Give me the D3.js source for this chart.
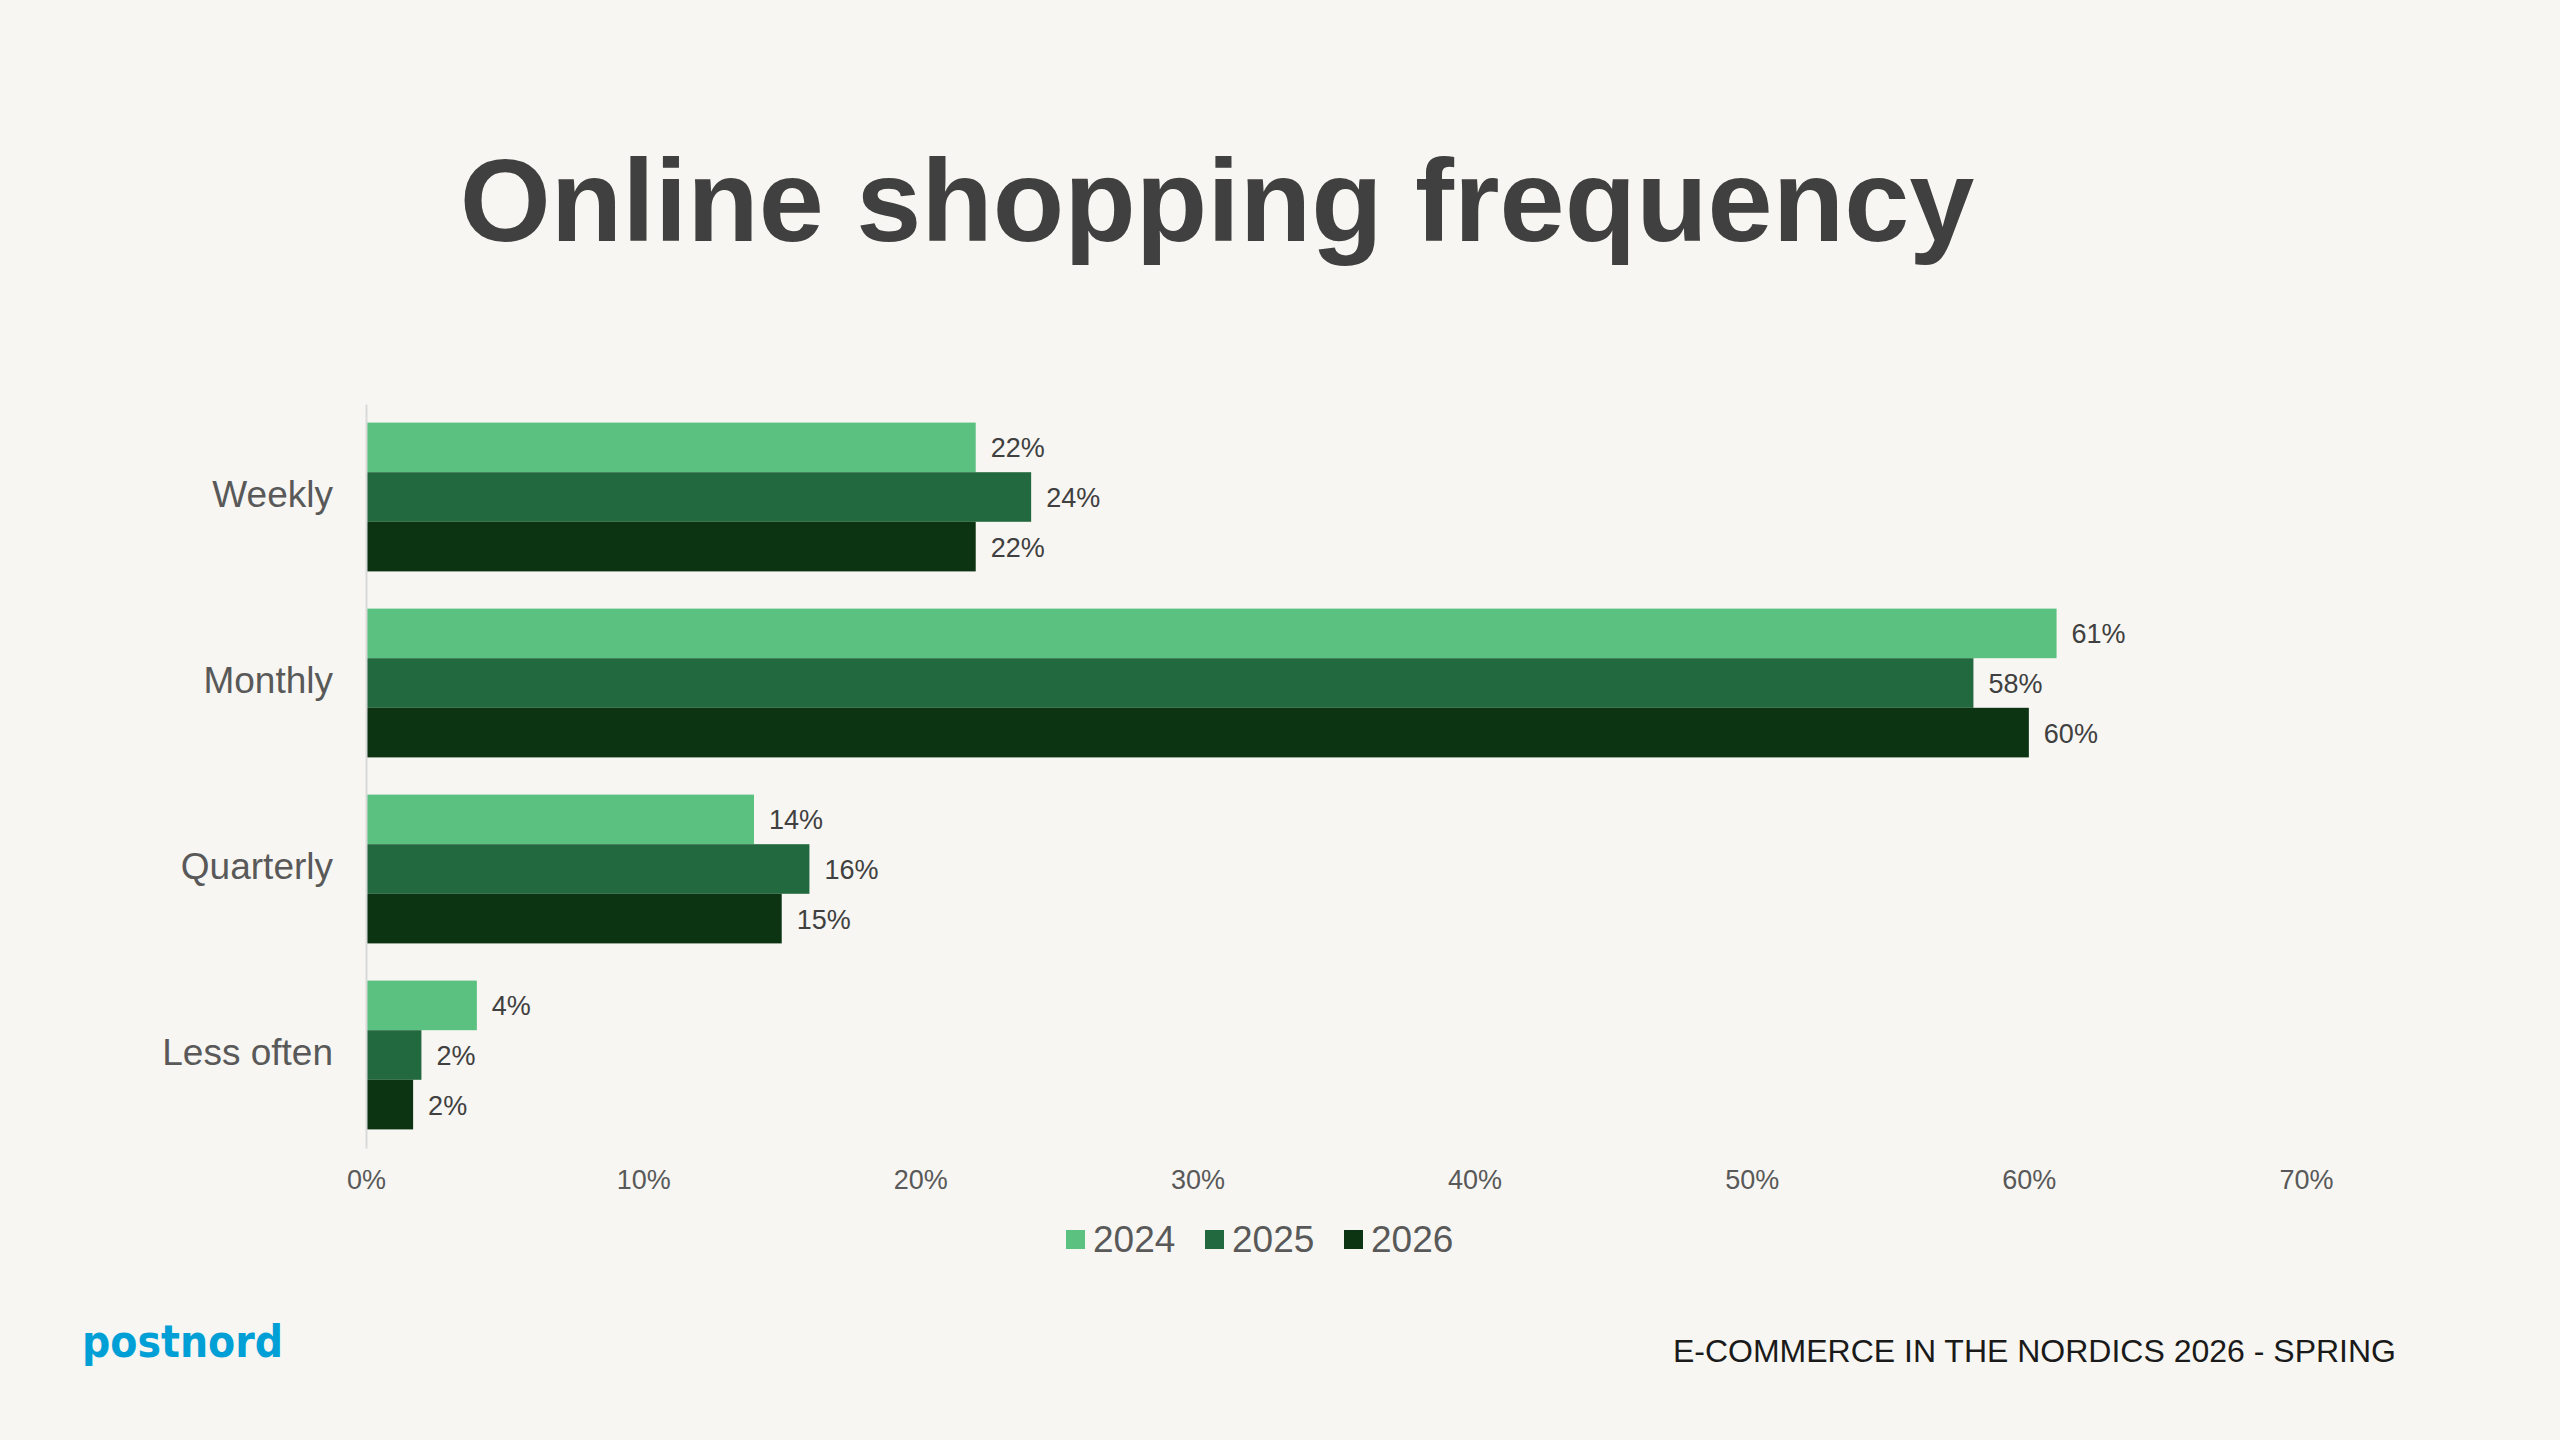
<!DOCTYPE html>
<html>
<head>
<meta charset="utf-8">
<script src="https://cdn.jsdelivr.net/npm/d3@7"></script>
<style>
  html, body { margin: 0; padding: 0; background: #f7f6f2; }
  svg { display: block; }
  text { font-family: "Liberation Sans", Arial, sans-serif; }
</style>
</head>
<body>
<svg id="chart" width="2560" height="1440"></svg>
<script>
const categories = ["Weekly", "Monthly", "Quarterly", "Less often"];
const seriesNames = ["2024", "2025", "2026"];
const values2024 = [22, 61, 14, 4];
const values2025 = [24, 58, 16, 2];
const values2026 = [22, 60, 15, 1.7];
const xTicks = [0, 10, 20, 30, 40, 50, 60, 70];
const colors = ["#5bc181", "#23693f", "#0c3413"];

const seriesValues = [values2024, values2025, values2026];

const svg = d3.select("#chart");
svg.append("rect").attr("width", 2560).attr("height", 1440).attr("fill", "#f7f6f2");

const plotLeft = 366, plotTop = 404, plotBottom = 1148;
const x = d3.scaleLinear().domain([0, 70]).range([plotLeft, plotLeft + 1940]);
const y = d3.scaleBand().domain(categories).range([plotTop, plotBottom]).paddingInner(0.2).paddingOuter(0.1);
const y1 = d3.scaleBand().domain(seriesNames).range([0, y.bandwidth()]);

// Title
svg.append("text")
  .attr("x", 1217).attr("y", 241)
  .attr("text-anchor", "middle")
  .attr("font-size", 117).attr("font-weight", "bold")
  .attr("fill", "#404040")
  .text("Online shopping frequency");

// Bars
const groups = svg.append("g").selectAll("g")
  .data(categories).join("g")
  .attr("transform", d => `translate(0,${y(d)})`);

groups.selectAll("rect")
  .data((c, i) => seriesNames.map((s, j) => ({ s, v: seriesValues[j][i], j })))
  .join("rect")
  .attr("x", x(0))
  .attr("y", d => y1(d.s))
  .attr("width", d => x(d.v) - x(0))
  .attr("height", y1.bandwidth())
  .attr("fill", d => colors[d.j]);

groups.selectAll("text.val")
  .data((c, i) => seriesNames.map((s, j) => ({ s, v: seriesValues[j][i], j })))
  .join("text")
  .attr("class", "val")
  .attr("x", d => x(d.v) + 15)
  .attr("y", d => y1(d.s) + y1.bandwidth() / 2 + 10)
  .attr("font-size", 27)
  .attr("fill", "#404040")
  .text(d => Math.round(d.v) + "%");

// Y axis line + category labels
const yAxis = d3.axisLeft(y).tickSize(0).tickPadding(33);
const yg = svg.append("g").attr("transform", `translate(${plotLeft},0)`).call(yAxis);
yg.select(".domain").attr("stroke", "#d9d9d9").attr("stroke-width", 2);
yg.selectAll(".tick text")
  .attr("font-size", 37)
  .attr("fill", "#595959")
  .attr("dy", "0.28em");

// X axis labels (no line)
const xAxis = d3.axisBottom(x).tickValues(xTicks).tickSize(0).tickPadding(0).tickFormat(d => d + "%");
const xg = svg.append("g").attr("transform", `translate(0,${plotBottom})`).call(xAxis);
xg.select(".domain").remove();
xg.selectAll(".tick text")
  .attr("font-size", 27)
  .attr("fill", "#595959")
  .attr("dy", null)
  .attr("y", 41);

// Legend
const legendX = [1066, 1205, 1344];
const lg = svg.append("g");
seriesNames.forEach((s, i) => {
  lg.append("rect").attr("x", legendX[i]).attr("y", 1230).attr("width", 19).attr("height", 19).attr("fill", colors[i]);
  lg.append("text").attr("x", legendX[i] + 27).attr("y", 1252)
    .attr("font-size", 37).attr("fill", "#595959").text(s);
});

// Footer
svg.append("text")
  .attr("x", 82).attr("y", 1357)
  .attr("font-size", 44)
  .style("font-family", "'DejaVu Sans', sans-serif")
  .style("font-weight", "bold")
  .attr("fill", "#00a0d6")
  .attr("textLength", 201).attr("lengthAdjust", "spacingAndGlyphs")
  .text("postnord");

svg.append("text")
  .attr("x", 2396).attr("y", 1362)
  .attr("text-anchor", "end")
  .attr("font-size", 32)
  .attr("fill", "#1a1a1a")
  .text("E-COMMERCE IN THE NORDICS 2026 - SPRING");
</script>
</body>
</html>
